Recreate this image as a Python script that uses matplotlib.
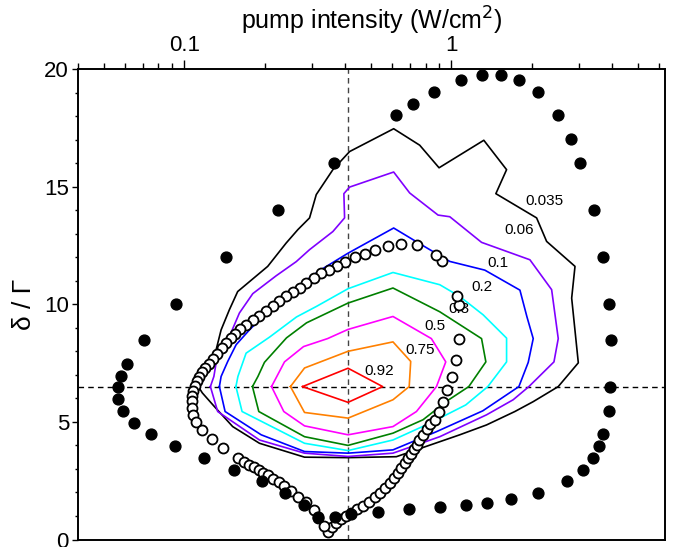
"""
Contour map of the normalised signal versus pump intensity and detuning,
with the two boundary curves (filled and open markers) on top.
"""

import matplotlib
matplotlib.use('Agg')
from matplotlib import pyplot, ticker

pyplot.rcParams['font.family'] = ['Liberation Sans Narrow', 'Liberation Sans',
                                  'DejaVu Sans']
pyplot.rcParams['mathtext.fontset'] = 'custom'
pyplot.rcParams['mathtext.rm'] = 'Liberation Sans Narrow'

# outer boundary (filled dots)
dot_x = [0.362, 0.225, 0.143, 0.0928, 0.0704, 0.0608, 0.0579, 0.0567, 0.0566,
         0.059, 0.0649, 0.0752, 0.0925, 0.1186, 0.154, 0.195, 0.2385, 0.281,
         0.316, 0.366, 0.4217, 0.531, 0.693, 0.904, 1.131, 1.36, 1.669, 2.107,
         2.713, 3.116, 3.387, 3.557, 3.683, 3.879, 3.933, 3.967, 3.899, 3.692,
         3.417, 3.035, 2.795, 2.51, 2.101, 1.793, 1.535, 1.299, 1.086, 0.861,
         0.72, 0.618]
dot_y = [16.0, 14.0, 12.0, 10.0, 8.48, 7.48, 6.97, 6.48, 5.99, 5.48, 4.97,
         4.48, 3.99, 3.46, 2.97, 2.48, 1.99, 1.47, 0.94, 0.94, 1.07, 1.16,
         1.29, 1.37, 1.47, 1.57, 1.72, 1.97, 2.48, 2.96, 3.48, 3.98, 4.48,
         5.48, 6.48, 8.48, 9.99, 12.0, 14.0, 16.0, 17.03, 18.03, 19.03, 19.54,
         19.74, 19.74, 19.52, 19.03, 18.53, 18.03]

# inner boundary (open circles)
ring_x = [0.3438, 0.3559, 0.3705, 0.3869, 0.4039, 0.4217, 0.4426, 0.4661,
          0.4909, 0.5159, 0.5384, 0.5622, 0.5871, 0.6102, 0.6307, 0.6494,
          0.6682, 0.6857, 0.7037, 0.7222, 0.7412, 0.7573, 0.7805, 0.8079,
          0.8326, 0.866, 0.8963, 0.9301, 0.9627, 1.005, 1.038, 1.067, 1.065,
          1.050, 0.9253, 0.8787, 0.743, 0.6455, 0.5785, 0.5188, 0.4731,
          0.4339, 0.3998, 0.3731, 0.3477, 0.3256, 0.3045, 0.2860, 0.2699,
          0.2547, 0.2405, 0.2271, 0.2144, 0.2025, 0.1911, 0.1804, 0.1703,
          0.1622, 0.1553, 0.1494, 0.1437, 0.1382, 0.1329, 0.1279, 0.1235,
          0.1196, 0.1165, 0.1138, 0.1114, 0.1095, 0.1081, 0.1072, 0.1064,
          0.1067, 0.1074, 0.1106, 0.1165, 0.127, 0.1391, 0.1584, 0.1679,
          0.1753, 0.1830, 0.19, 0.1966, 0.2052, 0.2156, 0.2258, 0.2371,
          0.2512, 0.266, 0.2843, 0.3045, 0.3160, 0.332]
ring_y = [0.34, 0.53, 0.69, 0.86, 1.00, 1.14, 1.29, 1.43, 1.61, 1.80, 1.98,
          2.18, 2.39, 2.60, 2.82, 3.03, 3.24, 3.45, 3.64, 3.83, 4.02, 4.23,
          4.45, 4.69, 4.89, 5.09, 5.44, 5.86, 6.34, 6.90, 7.63, 8.53, 9.98,
          10.36, 11.85, 12.11, 12.50, 12.56, 12.46, 12.32, 12.15, 11.99, 11.80,
          11.64, 11.47, 11.33, 11.11, 10.90, 10.70, 10.53, 10.33, 10.13, 9.94,
          9.71, 9.48, 9.31, 9.13, 8.94, 8.74, 8.55, 8.36, 8.13, 7.87, 7.66,
          7.47, 7.30, 7.11, 6.91, 6.72, 6.53, 6.30, 6.09, 5.87, 5.58, 5.30,
          5.01, 4.66, 4.26, 3.88, 3.48, 3.31, 3.17, 3.07, 2.96, 2.84, 2.74,
          2.56, 2.46, 2.28, 2.08, 1.82, 1.61, 1.26, 0.90, 0.57]

# contour levels and their (closed) outlines
levels = ['0.035', '0.06', '0.1', '0.2', '0.3', '0.5', '0.75', '0.92']
colors = ['black', '#8000ff', '#0000ff', '#00ffff', '#008000', '#ff00ff',
          '#ff8000', '#ff0000']

c035_x = [0.1128, 0.1213, 0.1315, 0.1373, 0.1475, 0.1584, 0.2052, 0.2405,
          0.266, 0.2943, 0.3118, 0.3598, 0.4156, 0.6076, 0.7605, 0.8985,
          1.3216, 1.608, 1.466, 2.083, 2.271, 2.900, 2.818, 2.984, 2.51,
          2.023, 1.727, 1.353, 1.074, 0.6219, 0.41, 0.2818, 0.1911, 0.1517,
          0.1296, 0.1168]
c035_y = [6.5, 7.21, 8.06, 8.91, 9.77, 10.54, 11.61, 12.60, 13.17, 13.67,
          14.66, 15.72, 16.49, 17.46, 16.76, 15.80, 16.97, 15.72, 14.70, 13.67,
          12.67, 11.61, 10.26, 7.51, 6.5, 5.86, 5.44, 4.87, 4.45, 3.52, 3.48,
          3.50, 4.09, 4.80, 5.65, 6.23]
c06_x = [0.1252, 0.129, 0.1315, 0.1475, 0.1608, 0.1804, 0.2207, 0.2623,
         0.2943, 0.3598, 0.398, 0.3956, 0.4156, 0.6076, 0.6975, 0.8908, 0.9854,
         1.296, 1.966, 2.371, 2.51, 2.419, 1.949, 1.702, 1.353, 0.904, 0.604,
         0.41, 0.2818, 0.1911, 0.1333]
c06_y = [6.5, 6.93, 7.50, 8.63, 9.63, 10.45, 11.21, 11.81, 12.32, 13.09,
         13.67, 14.70, 14.98, 15.62, 14.73, 13.79, 13.72, 12.63, 11.89, 10.62,
         8.54, 7.55, 6.5, 5.94, 5.30, 4.37, 3.67, 3.53, 3.67, 4.23, 5.44]
c1_x = [0.1353, 0.1373, 0.1454, 0.1563, 0.1753, 0.1995, 0.2475, 0.3208, 0.41,
        0.6076, 0.7718, 0.9854, 1.333, 1.804, 1.916, 2.023, 1.938, 1.788,
        1.310, 0.8732, 0.604, 0.41, 0.2818, 0.194, 0.1421]
c1_y = [6.5, 6.93, 7.57, 8.28, 8.91, 9.55, 10.49, 11.43, 12.17, 13.24, 12.53,
        11.82, 11.45, 10.60, 9.47, 8.54, 7.53, 6.5, 5.47, 4.57, 3.81, 3.67,
        3.74, 4.45, 5.44]
c2_x = [0.156, 0.1587, 0.1703, 0.2083, 0.263, 0.3126, 0.41, 0.604, 0.904,
        1.074, 1.314, 1.608, 1.608, 1.368, 1.131, 0.829, 0.604, 0.41, 0.2818,
        0.1645]
c2_y = [6.5, 6.93, 7.92, 8.60, 9.46, 9.91, 10.66, 11.35, 10.83, 10.33, 9.55,
        8.56, 7.55, 6.5, 5.72, 4.94, 4.23, 3.78, 4.09, 5.44]
c3_x = [0.1799, 0.1886, 0.1995, 0.2412, 0.2867, 0.41, 0.604, 0.904, 1.296,
        1.345, 1.161, 0.9685, 0.7825, 0.604, 0.41, 0.2818, 0.19]
c3_y = [6.5, 6.93, 7.53, 8.57, 9.21, 10.05, 10.69, 9.68, 8.54, 7.55, 6.5,
        5.91, 5.09, 4.52, 4.0, 4.37, 5.44]
c5_x = [0.2120, 0.2371, 0.2794, 0.3438, 0.41, 0.604, 0.841, 0.952, 0.8787,
        0.7394, 0.604, 0.41, 0.2818, 0.2357]
c5_y = [6.5, 7.55, 8.20, 8.54, 8.93, 9.48, 8.54, 7.55, 6.5, 5.44, 4.80, 4.45,
        4.83, 5.44]
c75_x = [0.2496, 0.2818, 0.41, 0.604, 0.7037, 0.6946, 0.604, 0.41, 0.2818]
c75_y = [6.5, 7.29, 8.0, 8.40, 7.57, 6.5, 5.94, 5.16, 5.40]
c92_x = [0.277, 0.41, 0.5525, 0.41]
c92_y = [6.5, 7.28, 6.5, 5.83]

contour_x = [c035_x, c06_x, c1_x, c2_x, c3_x, c5_x, c75_x, c92_x]
contour_y = [c035_y, c06_y, c1_y, c2_y, c3_y, c5_y, c75_y, c92_y]

# where the level values are written
label_x = [2.219, 1.788, 1.495, 1.296, 1.065, 0.866, 0.7605, 0.5354]
label_y = [14.40, 13.17, 11.75, 10.73, 9.80, 9.06, 8.06, 7.18]

# position of the maximum (dashed cross-hair)
peak_x = 0.41
peak_y = 6.5

fig = pyplot.figure(figsize=(6.79, 5.47), dpi=100)
ax = fig.add_axes([0.1149, 0.0137, 0.8645, 0.8602])

for xs, ys, color in zip(contour_x, contour_y, colors):
    ax.plot(xs + xs[:1], ys + ys[:1], color=color, linewidth=1.2, zorder=3)

for text, x, y in zip(levels, label_x, label_y):
    ax.text(x, y, text, fontsize=11, ha='center', va='center', zorder=4)

ax.axvline(peak_x, color='#444444', linestyle=(0, (4, 3)), linewidth=1.0,
           zorder=2)
ax.axhline(peak_y, color='black', linestyle=(0, (4, 3)), linewidth=1.0,
           zorder=2)

ax.plot(ring_x, ring_y, linestyle='none', marker='o', markersize=7.2,
        markerfacecolor='white', markeredgecolor='black',
        markeredgewidth=1.3, zorder=5)
ax.plot(dot_x, dot_y, linestyle='none', marker='o', markersize=7.8,
        color='black', zorder=6)

ax.set_xscale('log')
ax.set_xlim(0.04, 6.3)
ax.set_ylim(0, 20)

ax.xaxis.tick_top()
ax.xaxis.set_label_position('top')
ax.xaxis.set_major_locator(ticker.LogLocator(base=10))
ax.xaxis.set_minor_locator(ticker.LogLocator(base=10, subs=range(2, 10)))
ax.xaxis.set_major_formatter(ticker.FuncFormatter(lambda v, p: '%g' % v))
ax.xaxis.set_minor_formatter(ticker.NullFormatter())
ax.yaxis.set_major_locator(ticker.MultipleLocator(5))
ax.yaxis.set_minor_locator(ticker.MultipleLocator(1))

ax.tick_params(axis='x', which='major', direction='out', length=6.5,
               width=1.0, pad=3, labelsize=16)
ax.tick_params(axis='x', which='minor', direction='out', length=4, width=1.0)
ax.tick_params(axis='y', which='major', direction='out', length=4.5,
               width=1.0, pad=2, labelsize=16, right=False)
ax.tick_params(axis='y', which='minor', direction='out', length=2.5,
               width=1.0, right=False)
for spine in ax.spines.values():
    spine.set_linewidth(1.4)

ax.set_xlabel('pump intensity (W/cm$^2$)', fontsize=18, labelpad=4)
ax.set_ylabel('δ / Γ', fontsize=19, labelpad=6)

fig.savefig('out.png', dpi=100)
